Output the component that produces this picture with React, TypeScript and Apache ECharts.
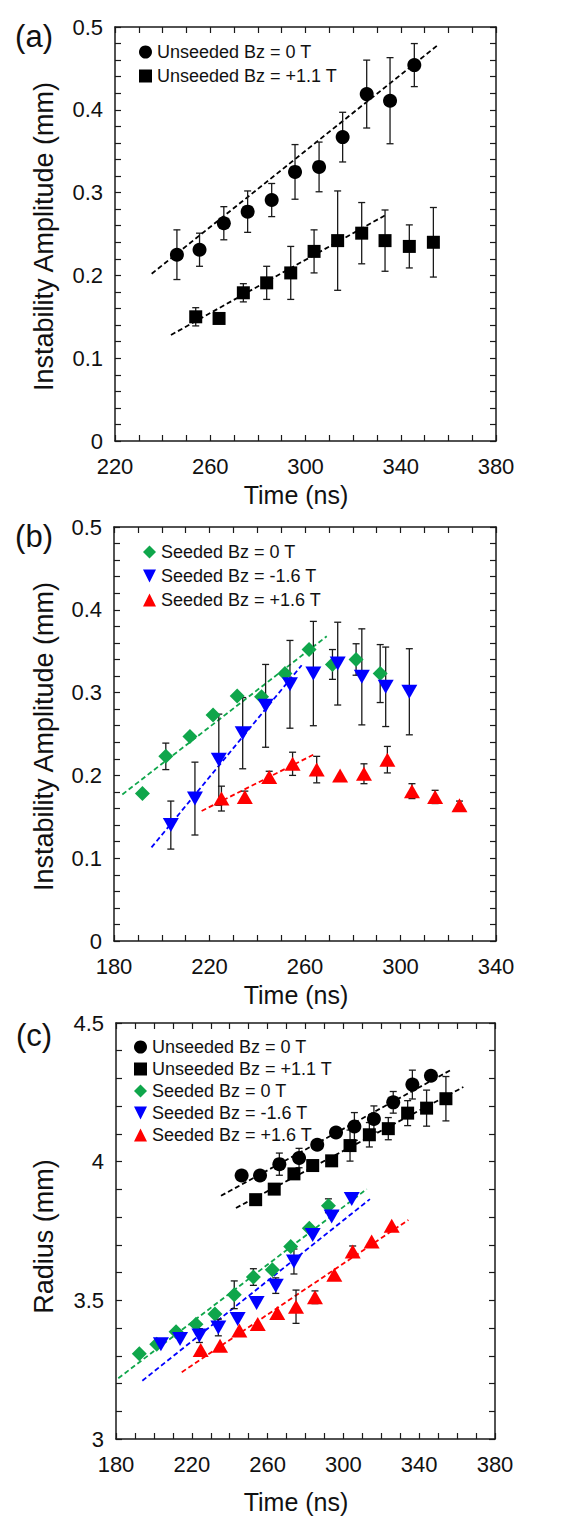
import React, { useEffect, useRef } from "react";
import * as echarts from "echarts";

const FONT = "'Liberation Sans', Arial, sans-serif";
const GREEN = "#0FA64B";
const BLUE = "#0000FF";
const RED = "#FF0000";
const BLACK = "#000000";
const DOWN_TRI = "path://M0,0L10,0L5,10Z";

// ---------- Panel (a) ----------
const aU0x = [246, 255.5, 265.7, 275.7, 285.8, 295.6, 305.7, 315.6, 325.7, 335.5, 345.7];
const aU0y = [0.225, 0.231, 0.263, 0.277, 0.291, 0.325, 0.331, 0.367, 0.419, 0.411, 0.454];
const aU0e = [0.03, 0.02, 0.02, 0.025, 0.02, 0.033, 0.03, 0.03, 0.041, 0.052, 0.026];
const aU1x = [253.9, 263.7, 273.9, 283.7, 293.8, 303.6, 313.5, 323.6, 333.4, 343.6, 353.7];
const aU1y = [0.15, 0.148, 0.179, 0.191, 0.203, 0.229, 0.242, 0.251, 0.242, 0.235, 0.24];
const aU1e = [0.011, 0, 0.011, 0.02, 0.032, 0.026, 0.06, 0.037, 0.037, 0.026, 0.042];
const aFitU0 = [[235.4, 0.202], [355.5, 0.478]];
const aFitU1 = [[243.5, 0.128], [333.7, 0.273]];

// ---------- Panel (b) ----------
const bS0x = [191.9, 201.7, 211.8, 221.5, 231.6, 241.8, 251.6, 261.7, 271.5, 281.4, 291.5];
const bS0y = [0.178, 0.223, 0.247, 0.273, 0.296, 0.295, 0.323, 0.352, 0.334, 0.34, 0.323];
const bS0e = [0, 0.016, 0, 0, 0, 0, 0, 0, 0.018, 0.019, 0.035];
const bSmx = [203.8, 213.9, 223.9, 233.9, 243.5, 253.7, 263.5, 273.7, 283.8, 293.8, 303.7];
const bSmy = [0.14, 0.172, 0.219, 0.251, 0.284, 0.31, 0.323, 0.335, 0.319, 0.307, 0.301];
const bSme = [0.029, 0.044, 0.055, 0.043, 0.05, 0.053, 0.063, 0.05, 0.058, 0.048, 0.052];
const bSpx = [225, 234.8, 245, 254.8, 264.9, 274.7, 284.7, 294.5, 304.8, 314.5, 324.7];
const bSpy = [0.172, 0.174, 0.198, 0.214, 0.207, 0.2, 0.202, 0.219, 0.181, 0.174, 0.164];
const bSpe = [0.015, 0.007, 0.007, 0.014, 0.016, 0, 0.012, 0.016, 0.009, 0.008, 0.005];
const bFitS0 = [[183.5, 0.177], [269.1, 0.368]];
const bFitSm = [[195.7, 0.113], [258.6, 0.333]];
const bFitSp = [[216.7, 0.157], [263.5, 0.225]];

// ---------- Panel (c) ----------
const cU0x = [246.3, 256, 266.2, 276.6, 286.2, 296.1, 305.8, 316.1, 326.3, 336.4, 346.2];
const cU0y = [3.95, 3.95, 3.991, 4.013, 4.061, 4.105, 4.127, 4.154, 4.214, 4.278, 4.31];
const cU0e = [0, 0, 0.04, 0.035, 0, 0, 0.05, 0.047, 0.039, 0.052, 0];
const cU1x = [253.7, 263.5, 273.9, 283.8, 293.8, 303.5, 313.7, 323.7, 333.9, 343.9, 354.1];
const cU1y = [3.863, 3.901, 3.956, 3.986, 4.003, 4.058, 4.097, 4.119, 4.175, 4.193, 4.227];
const cU1e = [0, 0, 0, 0, 0, 0.056, 0.044, 0.04, 0.045, 0.065, 0.08];
const cS0x = [192.3, 201.5, 211.7, 222.2, 232.2, 242.4, 252.5, 262.5, 272.2, 282, 292.1];
const cS0y = [3.307, 3.342, 3.387, 3.414, 3.451, 3.52, 3.584, 3.61, 3.694, 3.76, 3.841];
const cS0e = [0, 0, 0, 0, 0, 0.05, 0.03, 0, 0, 0, 0.025];
const cSmx = [203.7, 213.8, 224, 234, 244.2, 254.2, 264.3, 273.9, 283.8, 293.8, 304.4];
const cSmy = [3.342, 3.361, 3.373, 3.402, 3.433, 3.49, 3.553, 3.64, 3.736, 3.802, 3.865];
const cSme = [0, 0, 0.025, 0.03, 0, 0, 0.028, 0.045, 0, 0, 0];
const cSpx = [224.7, 234.9, 245.1, 254.8, 265.1, 275, 285, 295.2, 304.9, 314.9, 325.5];
const cSpy = [3.321, 3.336, 3.391, 3.415, 3.454, 3.477, 3.511, 3.592, 3.676, 3.712, 3.769];
const cSpe = [0, 0, 0, 0, 0, 0.06, 0.023, 0, 0.02, 0, 0];
const cFitU0 = [[235.4, 3.877], [356.3, 4.329]];
const cFitU1 = [[243.3, 3.833], [363.3, 4.269]];
const cFitS0 = [[181.2, 3.219], [312.3, 3.901]];
const cFitSm = [[193.9, 3.21], [314, 3.865]];
const cFitSp = [[214.7, 3.241], [334.3, 3.79]];

// Axis ranges and ticks
const xRanges = [[220, 380], [180, 340], [180, 380]];
const yRanges = [[0, 0.5], [0, 0.5], [3, 4.5]];
const yIntervals = [0.02, 0.02, 0.1];
const xLabelStep = 40;

const N_U0 = "Unseeded Bz = 0 T";
const N_U1 = "Unseeded Bz = +1.1 T";
const N_S0 = "Seeded Bz = 0 T";
const N_SM = "Seeded Bz = -1.6 T";
const N_SP = "Seeded Bz = +1.6 T";

function pts(xs: number[], ys: number[]) {
  return xs.map((x, i) => [x, ys[i]]);
}

function scatter(name: string, g: number, xs: number[], ys: number[], symbol: string, size: any, color: string) {
  return {
    type: "scatter",
    name,
    xAxisIndex: g * 2,
    yAxisIndex: g * 2,
    data: pts(xs, ys),
    symbol,
    symbolSize: size,
    itemStyle: { color, opacity: 1 },
    z: 5,
    silent: true,
  };
}

function errBars(id: string, g: number, xs: number[], ys: number[], es: number[]) {
  const data = xs.map((x, i) => [x, ys[i], es[i]]).filter((d) => d[2] > 0);
  return {
    type: "custom",
    name: id,
    xAxisIndex: g * 2,
    yAxisIndex: g * 2,
    data,
    encode: { x: 0, y: 1 },
    z: 4,
    silent: true,
    renderItem: (params: any, api: any) => {
      const x = api.value(0);
      const y = api.value(1);
      const e = api.value(2);
      const t = api.coord([x, y + e]);
      const b = api.coord([x, y - e]);
      const cw = 3.5;
      const st = { stroke: "#1a1a1a", lineWidth: 1.3 };
      return {
        type: "group",
        children: [
          { type: "line", shape: { x1: t[0], y1: t[1], x2: b[0], y2: b[1] }, style: st },
          { type: "line", shape: { x1: t[0] - cw, y1: t[1], x2: t[0] + cw, y2: t[1] }, style: st },
          { type: "line", shape: { x1: b[0] - cw, y1: b[1], x2: b[0] + cw, y2: b[1] }, style: st },
        ],
      };
    },
  };
}

function fit(id: string, g: number, data: number[][], color: string) {
  return {
    type: "line",
    name: id,
    xAxisIndex: g * 2,
    yAxisIndex: g * 2,
    data,
    symbol: "none",
    showSymbol: false,
    lineStyle: { color, width: 1.8, type: [5, 3] },
    z: 3,
    silent: true,
  };
}

const axisLineStyle = { color: "#1a1a1a", width: 1.5 };
const tickStyle = { color: "#1a1a1a", width: 1.2 };

function xAxes(g: number) {
  const [min, max] = xRanges[g];
  const base = {
    gridIndex: g,
    type: "value",
    min,
    max,
    interval: 10,
    splitLine: { show: false },
    axisLine: { show: true, onZero: false, lineStyle: axisLineStyle },
    axisTick: { show: true, inside: true, length: 6, lineStyle: tickStyle },
  };
  return [
    {
      ...base,
      position: "bottom",
      axisLabel: {
        show: true,
        margin: 14,
        fontSize: 22,
        fontFamily: FONT,
        color: "#111",
        formatter: (v: number) => (Math.round(v - min) % xLabelStep === 0 ? String(Math.round(v)) : ""),
      },
    },
    { ...base, position: "top", axisLabel: { show: false } },
  ];
}

function yAxes(g: number) {
  const [min, max] = yRanges[g];
  const iv = yIntervals[g];
  const base = {
    gridIndex: g,
    type: "value",
    min,
    max,
    interval: iv,
    splitLine: { show: false },
    axisLine: { show: true, onZero: false, lineStyle: axisLineStyle },
    axisTick: { show: true, inside: true, length: 6, lineStyle: tickStyle },
  };
  const fmt =
    g < 2
      ? (v: number) => {
          const r = Math.round(v * 100);
          return r % 10 === 0 ? String(r / 100) : "";
        }
      : (v: number) => {
          const r = Math.round(v * 10);
          return r % 5 === 0 ? String(r / 10) : "";
        };
  return [
    {
      ...base,
      position: "left",
      axisLabel: { show: true, margin: 12, fontSize: 22, fontFamily: FONT, color: "#111", formatter: fmt },
    },
    { ...base, position: "right", axisLabel: { show: false } },
  ];
}

function legend(left: number, top: number, gap: number, names: string[]) {
  return {
    orient: "vertical",
    left,
    top,
    padding: 0,
    itemGap: gap,
    itemWidth: 13,
    itemHeight: 13,
    selectedMode: false,
    textStyle: { fontSize: 18, fontFamily: FONT, color: "#111" },
    data: names,
  };
}

function txt(text: string, x: number, y: number, size: number, rotation = 0) {
  return {
    type: "text",
    x,
    y,
    rotation,
    style: { text, fontSize: size, fontFamily: FONT, fill: "#111", align: "center", verticalAlign: "middle" },
  };
}

export default function App() {
  const ref = useRef<HTMLDivElement>(null);
  useEffect(() => {
    if (!ref.current) return;
    const chart = echarts.init(ref.current, null, { renderer: "svg" });
    const TRI = [16, 14];
    const option: any = {
      animation: false,
      backgroundColor: "#ffffff",
      grid: [
        { left: 115, top: 27, width: 381, height: 414 },
        { left: 114, top: 527, width: 382, height: 414 },
        { left: 116, top: 1023, width: 379, height: 416 },
      ],
      xAxis: [...xAxes(0), ...xAxes(1), ...xAxes(2)],
      yAxis: [...yAxes(0), ...yAxes(1), ...yAxes(2)],
      legend: [
        legend(139, 43, 6, [N_U0, N_U1]),
        legend(143, 543, 6, [N_S0, N_SM, N_SP]),
        legend(134, 1038, 4, [N_U0, N_U1, N_S0, N_SM, N_SP]),
      ],
      graphic: [
        txt("(a)", 34, 36, 31),
        txt("(b)", 34, 536, 31),
        txt("(c)", 34, 1035, 31),
        txt("Instability Amplitude (mm)", 44, 236.5, 27, Math.PI / 2),
        txt("Instability Amplitude (mm)", 44, 736.5, 27, Math.PI / 2),
        txt("Radius (mm)", 44, 1236.5, 27, Math.PI / 2),
        txt("Time (ns)", 296, 495, 25),
        txt("Time (ns)", 296, 995, 25),
        txt("Time (ns)", 296, 1502, 25),
      ],
      series: [
        // panel a
        fit("fitA0", 0, aFitU0, BLACK),
        fit("fitA1", 0, aFitU1, BLACK),
        errBars("errA0", 0, aU0x, aU0y, aU0e),
        errBars("errA1", 0, aU1x, aU1y, aU1e),
        scatter(N_U0, 0, aU0x, aU0y, "circle", 14, BLACK),
        scatter(N_U1, 0, aU1x, aU1y, "rect", 13, BLACK),
        // panel b
        fit("fitB0", 1, bFitS0, GREEN),
        fit("fitBm", 1, bFitSm, BLUE),
        fit("fitBp", 1, bFitSp, RED),
        errBars("errB0", 1, bS0x, bS0y, bS0e),
        errBars("errBm", 1, bSmx, bSmy, bSme),
        errBars("errBp", 1, bSpx, bSpy, bSpe),
        scatter(N_S0, 1, bS0x, bS0y, "diamond", 15, GREEN),
        scatter(N_SM, 1, bSmx, bSmy, DOWN_TRI, TRI, BLUE),
        scatter(N_SP, 1, bSpx, bSpy, "triangle", TRI, RED),
        // panel c
        fit("fitC0", 2, cFitU0, BLACK),
        fit("fitC1", 2, cFitU1, BLACK),
        fit("fitCs0", 2, cFitS0, GREEN),
        fit("fitCsm", 2, cFitSm, BLUE),
        fit("fitCsp", 2, cFitSp, RED),
        errBars("errC0", 2, cU0x, cU0y, cU0e),
        errBars("errC1", 2, cU1x, cU1y, cU1e),
        errBars("errCs0", 2, cS0x, cS0y, cS0e),
        errBars("errCsm", 2, cSmx, cSmy, cSme),
        errBars("errCsp", 2, cSpx, cSpy, cSpe),
        scatter(N_U0 + " ", 2, cU0x, cU0y, "circle", 14, BLACK),
        scatter(N_U1 + " ", 2, cU1x, cU1y, "rect", 13, BLACK),
        scatter(N_S0 + " ", 2, cS0x, cS0y, "diamond", 15, GREEN),
        scatter(N_SM + " ", 2, cSmx, cSmy, DOWN_TRI, TRI, BLUE),
        scatter(N_SP + " ", 2, cSpx, cSpy, "triangle", TRI, RED),
      ],
    };
    chart.setOption(option);
    return () => chart.dispose();
  }, []);
  return (
    <div
      ref={ref}
      style={{ position: "absolute", left: 0, top: 0, width: 565, height: 1516, background: "#fff" }}
    />
  );
}
